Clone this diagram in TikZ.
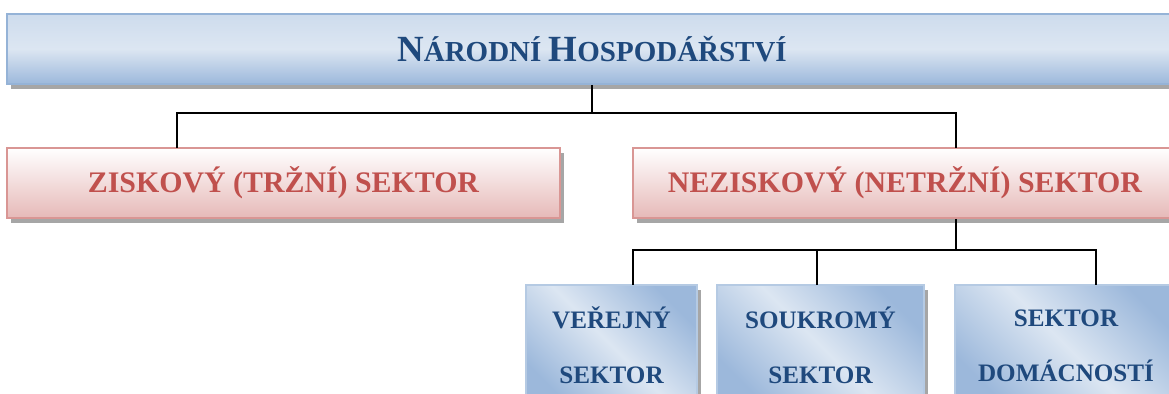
\documentclass[tikz,border=0pt]{standalone}
\usepackage{fontspec}
\setmainfont{Liberation Serif}
\usetikzlibrary{shadows}
\definecolor{hdText}{HTML}{1F497D}
\definecolor{blueEdge}{HTML}{95B3D7}
\definecolor{blueLight}{HTML}{DCE6F2}
\definecolor{blueDeep}{HTML}{9CB8DB}
\definecolor{redText}{HTML}{C0504D}
\definecolor{redEdge}{HTML}{D99694}
\definecolor{redLow}{HTML}{E6B9B8}
\newcommand{\capsc}[2]{{\fontsize{21}{24}\selectfont #1}{\fontsize{16.5}{20}\selectfont #2}}

\begin{document}
\begin{tikzpicture}[x=0.02cm,y=-0.02cm,
  boxshadow/.style={drop shadow={shadow xshift=0.08cm,shadow yshift=-0.1cm,fill=black!35,opacity=1}},
  headbox/.style={draw=blueEdge,line width=1.1pt,top color=blueLight!80!blueEdge,bottom color=blueDeep,middle color=blueLight,boxshadow,text=hdText,font=\bfseries\fontsize{16.5}{20}\selectfont,inner sep=0pt},
  sectorbox/.style={draw=redEdge,line width=1.1pt,top color=white,bottom color=redLow,boxshadow,text=redText,font=\bfseries\fontsize{17}{20}\selectfont,inner sep=0pt},
  subbox/.style={draw=blueEdge!70,line width=1.1pt,top color=blueDeep,bottom color=blueDeep,middle color=blueLight,shading angle=-45,boxshadow,text=hdText,font=\bfseries\fontsize{14.3}{31.2}\selectfont,align=center,inner sep=0pt},
  link/.style={line width=1.1pt,black}]
\clip (0,0) rectangle (1169,394);

\node[headbox,minimum width=23.4cm,minimum height=1.4cm] (narod) at (592,49) {\capsc{N}{ÁRODNÍ} \capsc{H}{OSPODÁŘSTVÍ}};

\node[sectorbox,minimum width=11.06cm,minimum height=1.4cm] (zisk) at (283.5,183) {ZISKOVÝ (TRŽNÍ) SEKTOR};
\node[sectorbox,minimum width=10.88cm,minimum height=1.4cm] (nezisk) at (905,183) {NEZISKOVÝ (NETRŽNÍ) SEKTOR};

\node[subbox,minimum width=3.42cm,minimum height=2.42cm] (verej) at (611.5,345.5) {VEŘEJNÝ\\SEKTOR};
\node[subbox,minimum width=4.14cm,minimum height=2.42cm] (soukr) at (820.5,345.5) {SOUKROMÝ\\SEKTOR};
\node[subbox,minimum width=4.44cm,minimum height=2.42cm] (domac) at (1066,345.5) {SEKTOR\\DOMÁCNOSTÍ};

\coordinate (bus1) at (592,113);
\coordinate (ziskTop) at (177,148);
\coordinate (neziskTop) at (956,148);
\coordinate (bus2) at (956,250);
\coordinate (verejTop) at (633,285);
\coordinate (soukrTop) at (817,285);
\coordinate (domacTop) at (1096,285);

\draw[link] (narod.south) -- (bus1) -| (ziskTop);
\draw[link] (bus1) -| (neziskTop);
\draw[link] (neziskTop |- nezisk.south) -- (bus2);
\draw[link] (bus2) -| (verejTop);
\draw[link] (bus2) -| (domacTop);
\draw[link] (soukrTop) |- (bus2);
\end{tikzpicture}
\end{document}
